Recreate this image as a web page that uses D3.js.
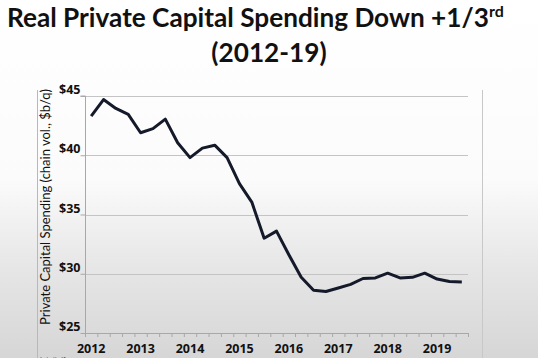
<!DOCTYPE html>
<html><head><meta charset="utf-8">
<script src="https://cdn.jsdelivr.net/npm/d3@7"></script>
<style>html,body{margin:0;padding:0;overflow:hidden;}</style>
</head><body>
<svg id="c" width="538" height="358"></svg>
<script>
const quarters = ["2012Q1","2012Q2","2012Q3","2012Q4","2013Q1","2013Q2","2013Q3","2013Q4","2014Q1","2014Q2","2014Q3","2014Q4","2015Q1","2015Q2","2015Q3","2015Q4","2016Q1","2016Q2","2016Q3","2016Q4","2017Q1","2017Q2","2017Q3","2017Q4","2018Q1","2018Q2","2018Q3","2018Q4","2019Q1","2019Q2","2019Q3"];
const spending = [43.3,44.7,43.95,43.45,41.9,42.25,43.05,41.05,39.8,40.6,40.85,39.8,37.6,36.05,33.0,33.6,31.6,29.7,28.6,28.5,28.8,29.1,29.6,29.65,30.05,29.65,29.7,30.05,29.55,29.35,29.3];
const yTicks = [25,30,35,40,45];
const yearLabels = ["2012","2013","2014","2015","2016","2017","2018","2019"];

(function(){
const svg = d3.select("#c");
const W = 538, H = 358;
const defs = svg.append("defs");
const g = defs.append("linearGradient").attr("id","bg").attr("x1",0).attr("x2",0).attr("y1",0).attr("y2",1);
g.append("stop").attr("offset","0%").attr("stop-color","#ffffff");
g.append("stop").attr("offset","50%").attr("stop-color","#fbfbfb");
g.append("stop").attr("offset","75%").attr("stop-color","#e6e6e6");
g.append("stop").attr("offset","100%").attr("stop-color","#d6d6d6");
svg.append("rect").attr("width",W).attr("height",H).attr("fill","url(#bg)");

svg.append("text").attr("x",7).attr("y",27).attr("font-family","Lato, 'Open Sans', sans-serif")
  .attr("font-weight","bold").attr("font-size",26.2).attr("fill","#111")
  .text("Real Private Capital Spending Down +1/3")
  .append("tspan").attr("font-size",16).attr("dy",-10).text("rd");
svg.append("text").attr("x",269).attr("y",62).attr("text-anchor","middle").attr("font-family","Lato, 'Open Sans', sans-serif")
  .attr("font-weight","bold").attr("font-size",26.2).attr("fill","#111").text("(2012-19)");

svg.append("line").attr("x1",37.5).attr("x2",37.5).attr("y1",90).attr("y2",358).attr("stroke","#b8b8b8").attr("stroke-width",1);
svg.append("line").attr("x1",482.5).attr("x2",482.5).attr("y1",90).attr("y2",358).attr("stroke","#c8c8c8").attr("stroke-width",1);

const pl = 85, pr = 468, pt = 96, pb = 333;
const x = d3.scaleBand().domain(quarters).range([pl,pr]);
const y = d3.scaleLinear().domain([25,45]).range([pb,pt]);

svg.append("g").selectAll("line").data(yTicks.slice(1)).join("line")
  .attr("x1",pl).attr("x2",pr).attr("y1",d=>Math.round(y(d))+0.5).attr("y2",d=>Math.round(y(d))+0.5)
  .attr("stroke","#c4c4c4").attr("stroke-width",1);

const ya = svg.append("g").attr("transform",`translate(${pl+0.5},0)`)
  .call(d3.axisLeft(y).tickValues(yTicks).tickSize(5).tickFormat(d=>"$"+d));
ya.select(".domain").attr("stroke","#a8a8a8").attr("d",`M-5,${pt}H0V${pb}`);
ya.selectAll(".tick line").attr("stroke","#a8a8a8");
ya.selectAll("text").attr("font-family","'Open Sans', sans-serif").attr("font-weight","bold").attr("font-size",12.5).attr("fill","#111").attr("x",-5).attr("dy","-0.2em");

const xa = svg.append("g").attr("transform",`translate(0,${pb+0.5})`)
  .call(d3.axisBottom(x).tickValues(quarters.filter(q=>q.endsWith("Q1"))).tickSize(0).tickFormat(q=>q.slice(0,4)));
xa.select(".domain").remove();
xa.selectAll("text").attr("font-family","'Open Sans', sans-serif").attr("font-weight","bold").attr("font-size",12.5).attr("fill","#111").attr("y",11).attr("dy","0.71em");
const bounds = quarters.map(q=>x(q)).concat([pr]);
svg.append("g").selectAll("line").data(bounds).join("line")
  .attr("x1",d=>d+0.5).attr("x2",d=>d+0.5).attr("y1",pb).attr("y2",pb+4).attr("stroke","#a8a8a8");
svg.append("line").attr("x1",pl).attr("x2",pr).attr("y1",pb+0.5).attr("y2",pb+0.5).attr("stroke","#a8a8a8");

svg.append("text").attr("transform",`translate(50,207) rotate(-90)`).attr("text-anchor","middle")
  .attr("font-family","Lato, 'Open Sans', sans-serif").attr("font-size",13).attr("fill","#111")
  .text("Private Capital Spending (chain vol., $b/q)");

svg.append("path").datum(spending.map((v,i)=>[quarters[i],v]))
  .attr("fill","none").attr("stroke","#141a2a").attr("stroke-width",3).attr("stroke-linejoin","round")
  .attr("d",d3.line().x(d=>x(d[0])+x.bandwidth()/2).y(d=>y(d[1])));

svg.append("text").attr("x",40).attr("y",362).attr("font-family","'Open Sans', sans-serif").attr("font-size",7).attr("fill","#333").text("Intuitalfp");
})();
</script>
</body></html>
